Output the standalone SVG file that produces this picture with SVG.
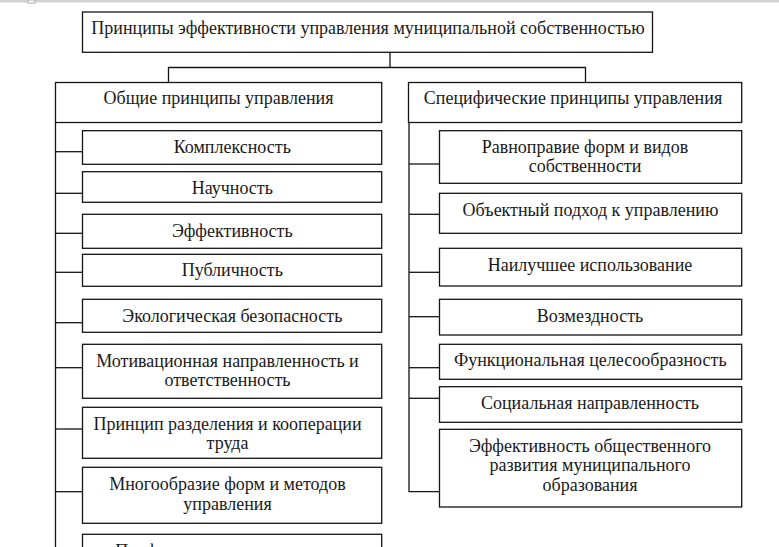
<svg xmlns="http://www.w3.org/2000/svg" width="779" height="547" viewBox="0 0 779 547">
<style>
.b{fill:#fff;stroke:#141414;stroke-width:1.3}
.c{fill:none;stroke:#141414;stroke-width:1.3}
text{font-family:"Liberation Serif","Times New Roman",serif;font-size:18px;fill:#1a1a1a;text-anchor:middle}
</style>
<rect x="0" y="0" width="779" height="547" fill="#fff"/>
<rect x="0" y="0" width="779" height="2.5" fill="#d2d2d2"/>
<rect x="28" y="0" width="7" height="3" fill="#fff" stroke="#999" stroke-width="0.8"/>
<g id="connectors">
<polyline class="c" points="390,52 390,67.5"/>
<polyline class="c" points="168.5,82.5 168.5,67.5 585.5,67.5 585.5,82.5"/>
<line class="c" x1="55.5" y1="122.5" x2="55.5" y2="547"/>
<line class="c" x1="55.5" y1="151.7" x2="82.5" y2="151.7"/>
<line class="c" x1="55.5" y1="193.3" x2="82.5" y2="193.3"/>
<line class="c" x1="55.5" y1="233.3" x2="82.5" y2="233.3"/>
<line class="c" x1="55.5" y1="272.3" x2="82.5" y2="272.3"/>
<line class="c" x1="55.5" y1="322.7" x2="82.5" y2="322.7"/>
<line class="c" x1="55.5" y1="367.7" x2="82.5" y2="367.7"/>
<line class="c" x1="55.5" y1="429" x2="82.5" y2="429"/>
<line class="c" x1="55.5" y1="491.7" x2="82.5" y2="491.7"/>
<polyline class="c" points="409,122.5 409,491.7 439.5,491.7"/>
<line class="c" x1="409" y1="164" x2="439.5" y2="164"/>
<line class="c" x1="409" y1="214.3" x2="439.5" y2="214.3"/>
<line class="c" x1="409" y1="272.3" x2="439.5" y2="272.3"/>
<line class="c" x1="409" y1="316.7" x2="439.5" y2="316.7"/>
<line class="c" x1="409" y1="367.7" x2="439.5" y2="367.7"/>
<line class="c" x1="409" y1="398.3" x2="439.5" y2="398.3"/>
</g>
<g id="root"><rect class="b" x="82.5" y="12" width="570" height="40.3"/><text x="368" y="34.3">Принципы эффективности управления муниципальной собственностью</text></g>
<g id="general"><rect class="b" x="55.5" y="82.5" width="326.2" height="40"/><text x="218.5" y="104">Общие принципы управления</text></g>
<g id="specific"><rect class="b" x="408.5" y="82.5" width="333.2" height="40"/><text x="573" y="104">Специфические принципы управления</text></g>
<g id="l1"><rect class="b" x="82.5" y="130.7" width="299.2" height="33.6"/><text x="232.3" y="152.7">Комплексность</text></g>
<g id="l2"><rect class="b" x="82.5" y="171.7" width="299.2" height="30.6"/><text x="232.3" y="194">Научность</text></g>
<g id="l3"><rect class="b" x="82.5" y="214.3" width="299.2" height="34"/><text x="232.3" y="236.7">Эффективность</text></g>
<g id="l4"><rect class="b" x="82.5" y="254.3" width="299.2" height="32"/><text x="232.3" y="276">Публичность</text></g>
<g id="l5"><rect class="b" x="82.5" y="299.3" width="299.2" height="33"/><text x="232.3" y="321.7">Экологическая безопасность</text></g>
<g id="l6"><rect class="b" x="82.5" y="344.3" width="299.2" height="54"/><text x="227.5" y="366.7">Мотивационная направленность и</text><text x="227.5" y="386">ответственность</text></g>
<g id="l7"><rect class="b" x="82.5" y="407.3" width="299.2" height="51"/><text x="227.5" y="430">Принцип разделения и кооперации</text><text x="227.5" y="449">труда</text></g>
<g id="l8"><rect class="b" x="82.5" y="467.3" width="299.2" height="56"/><text x="227.5" y="490">Многообразие форм и методов</text><text x="227.5" y="509.5">управления</text></g>
<g id="l9"><rect class="b" x="82.5" y="534.3" width="299.2" height="20"/><text x="232" y="557">Профессионализм управления</text></g>
<g id="r1"><rect class="b" x="439.5" y="130.7" width="302.2" height="52.6"/><text x="585" y="153.3">Равноправие форм и видов</text><text x="585" y="172.3">собственности</text></g>
<g id="r2"><rect class="b" x="439.5" y="193.3" width="302.2" height="40"/><text x="590.5" y="215.7">Объектный подход к управлению</text></g>
<g id="r3"><rect class="b" x="439.5" y="248.3" width="302.2" height="37.7"/><text x="590" y="270.7">Наилучшее использование</text></g>
<g id="r4"><rect class="b" x="439.5" y="299.3" width="302.2" height="35.7"/><text x="590" y="322.3">Возмездность</text></g>
<g id="r5"><rect class="b" x="439.5" y="344.3" width="302.2" height="35"/><text x="590.3" y="365.7">Функциональная целесообразность</text></g>
<g id="r6"><rect class="b" x="439.5" y="386.7" width="302.2" height="35.6"/><text x="590" y="409.3">Социальная направленность</text></g>
<g id="r7"><rect class="b" x="439.5" y="429.3" width="302.2" height="77.7"/><text x="590" y="451.7">Эффективность общественного</text><text x="590" y="471">развития муниципального</text><text x="590" y="491">образования</text></g>
</svg>
